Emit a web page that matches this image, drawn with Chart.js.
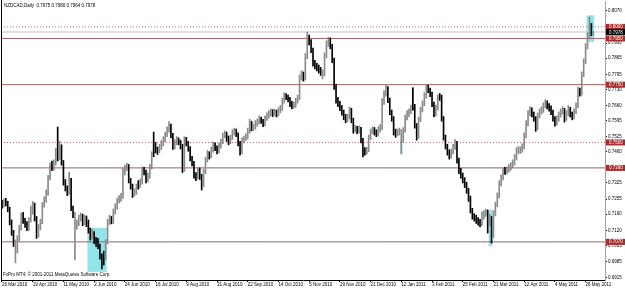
<!DOCTYPE html>
<html>
<head>
<meta charset="utf-8">
<script src="https://cdn.jsdelivr.net/npm/chart.js@4.4.1/dist/chart.umd.min.js"></script>
<style>
  html, body { margin: 0; padding: 0; background: #fff; }
  #wrap { width: 625px; height: 288px; }
</style>
</head>
<body>
<div id="wrap"><canvas id="chart" width="625" height="288"></canvas></div>
<script>
// NZDCAD daily bars, 26 Mar 2010 .. early Jun 2011
const closes = [
  0.7229,0.7242,0.7238,0.7212,0.7156,0.7112,0.7069,0.7035,0.7086,0.7130,
  0.7182,0.7164,0.7147,0.7130,0.7164,0.7199,0.7229,0.7173,0.7099,0.7130,
  0.7156,0.7229,0.7251,0.7281,0.7346,0.7398,0.7390,0.7411,0.7459,0.7433,
  0.7480,0.7415,0.7329,0.7303,0.7285,0.7338,0.7216,0.7190,0.7138,0.7147,
  0.7173,0.7182,0.7151,0.7173,0.7156,0.7121,0.7091,0.7108,0.7078,0.7069,
  0.7052,0.7009,0.6983,0.7000,0.7069,0.7156,0.7173,0.7160,0.7199,0.7221,
  0.7247,0.7255,0.7264,0.7372,0.7390,0.7398,0.7338,0.7312,0.7277,0.7285,
  0.7307,0.7316,0.7329,0.7381,0.7372,0.7338,0.7355,0.7394,0.7446,0.7489,
  0.7467,0.7463,0.7480,0.7493,0.7511,0.7532,0.7554,0.7571,0.7532,0.7480,
  0.7498,0.7511,0.7502,0.7485,0.7381,0.7511,0.7498,0.7476,0.7433,0.7411,
  0.7359,0.7351,0.7381,0.7355,0.7316,0.7372,0.7424,0.7450,0.7442,0.7467,
  0.7489,0.7476,0.7463,0.7485,0.7502,0.7528,0.7536,0.7519,0.7502,0.7519,
  0.7541,0.7549,0.7536,0.7498,0.7459,0.7506,0.7515,0.7524,0.7549,0.7584,
  0.7562,0.7567,0.7580,0.7588,0.7601,0.7593,0.7580,0.7601,0.7614,0.7623,
  0.7632,0.7623,0.7632,0.7623,0.7636,0.7645,0.7679,0.7701,0.7697,0.7688,
  0.7667,0.7658,0.7662,0.7679,0.7693,0.7779,0.7796,0.7779,0.7870,0.7956,
  0.7935,0.7900,0.7844,0.7831,0.7822,0.7813,0.7805,0.7796,0.7874,0.7926,
  0.7943,0.7917,0.7857,0.7744,0.7684,0.7667,0.7649,0.7632,0.7610,0.7597,
  0.7610,0.7640,0.7597,0.7554,0.7562,0.7549,0.7558,0.7511,0.7463,0.7459,
  0.7467,0.7519,0.7545,0.7554,0.7545,0.7536,0.7554,0.7562,0.7675,0.7710,
  0.7736,0.7684,0.7632,0.7606,0.7545,0.7536,0.7545,0.7549,0.7511,0.7554,
  0.7606,0.7623,0.7632,0.7649,0.7658,0.7575,0.7524,0.7597,0.7640,0.7667,
  0.7701,0.7736,0.7727,0.7710,0.7667,0.7623,0.7649,0.7693,0.7697,0.7606,
  0.7524,0.7485,0.7459,0.7442,0.7459,0.7480,0.7498,0.7424,0.7377,0.7359,
  0.7338,0.7320,0.7294,0.7260,0.7208,0.7182,0.7173,0.7164,0.7156,0.7147,
  0.7177,0.7190,0.7199,0.7147,0.7173,0.7095,0.7190,0.7229,0.7268,0.7320,
  0.7346,0.7372,0.7377,0.7381,0.7390,0.7398,0.7411,0.7433,0.7463,0.7467,
  0.7467,0.7480,0.7528,0.7580,0.7623,0.7640,0.7623,0.7606,0.7562,0.7614,
  0.7632,0.7640,0.7658,0.7671,0.7658,0.7649,0.7632,0.7606,0.7584,0.7601,
  0.7619,0.7632,0.7640,0.7601,0.7623,0.7645,0.7623,0.7610,0.7632,0.7658,
  0.7727,0.7714,0.7792,0.7848,0.7913,0.7961,0.8004,0.7975,0.7978
];
const highs = [
  0.7250,0.7255,0.7258,0.7246,0.7220,0.7165,0.7120,0.7078,0.7097,0.7142,
  0.7195,0.7198,0.7172,0.7158,0.7175,0.7225,0.7245,0.7238,0.7180,0.7145,
  0.7168,0.7240,0.7265,0.7295,0.7358,0.7412,0.7420,0.7425,0.7475,0.7567,
  0.7505,0.7490,0.7422,0.7340,0.7312,0.7372,0.7345,0.7225,0.7198,0.7165,
  0.7186,0.7195,0.7190,0.7186,0.7182,0.7165,0.7130,0.7125,0.7115,0.7090,
  0.7085,0.7060,0.7018,0.7030,0.7080,0.7168,0.7185,0.7180,0.7212,0.7235,
  0.7260,0.7270,0.7280,0.7390,0.7402,0.7410,0.7405,0.7345,0.7320,0.7300,
  0.7320,0.7335,0.7342,0.7395,0.7392,0.7380,0.7368,0.7405,0.7460,0.7545,
  0.7500,0.7480,0.7492,0.7508,0.7525,0.7545,0.7568,0.7590,0.7580,0.7540,
  0.7512,0.7525,0.7520,0.7510,0.7492,0.7525,0.7522,0.7505,0.7482,0.7440,
  0.7418,0.7370,0.7392,0.7390,0.7362,0.7385,0.7436,0.7465,0.7460,0.7480,
  0.7502,0.7498,0.7485,0.7498,0.7515,0.7540,0.7550,0.7545,0.7528,0.7532,
  0.7555,0.7562,0.7558,0.7542,0.7505,0.7520,0.7528,0.7538,0.7562,0.7600,
  0.7592,0.7580,0.7595,0.7602,0.7615,0.7610,0.7600,0.7615,0.7628,0.7638,
  0.7645,0.7642,0.7645,0.7640,0.7650,0.7660,0.7692,0.7715,0.7712,0.7705,
  0.7695,0.7678,0.7675,0.7692,0.7705,0.7792,0.7810,0.7805,0.7885,0.7978,
  0.7965,0.7945,0.7908,0.7855,0.7842,0.7835,0.7825,0.7815,0.7888,0.7940,
  0.7955,0.7952,0.7925,0.7865,0.7752,0.7695,0.7678,0.7660,0.7640,0.7622,
  0.7622,0.7652,0.7648,0.7605,0.7575,0.7570,0.7572,0.7565,0.7518,0.7478,
  0.7480,0.7532,0.7558,0.7568,0.7565,0.7555,0.7568,0.7578,0.7690,0.7725,
  0.7752,0.7742,0.7692,0.7640,0.7612,0.7558,0.7558,0.7562,0.7556,0.7565,
  0.7618,0.7638,0.7645,0.7662,0.7736,0.7665,0.7582,0.7610,0.7652,0.7680,
  0.7715,0.7752,0.7748,0.7735,0.7718,0.7675,0.7662,0.7705,0.7712,0.7705,
  0.7612,0.7532,0.7492,0.7468,0.7472,0.7492,0.7512,0.7505,0.7432,0.7388,
  0.7368,0.7348,0.7328,0.7302,0.7268,0.7215,0.7192,0.7185,0.7175,0.7168,
  0.7200,0.7205,0.7212,0.7208,0.7190,0.7180,0.7205,0.7242,0.7282,0.7335,
  0.7360,0.7388,0.7392,0.7395,0.7405,0.7412,0.7425,0.7448,0.7478,0.7482,
  0.7482,0.7495,0.7542,0.7595,0.7638,0.7655,0.7650,0.7632,0.7612,0.7628,
  0.7645,0.7655,0.7672,0.7685,0.7680,0.7668,0.7658,0.7640,0.7612,0.7615,
  0.7632,0.7645,0.7655,0.7648,0.7638,0.7660,0.7652,0.7632,0.7645,0.7672,
  0.7740,0.7735,0.7805,0.7862,0.7928,0.7975,0.8043,0.8015,0.7980
];
const lows = [
  0.7215,0.7220,0.7226,0.7200,0.7143,0.7098,0.7050,0.6979,0.7022,0.7075,
  0.7121,0.7150,0.7132,0.7118,0.7120,0.7155,0.7190,0.7160,0.7085,0.7090,
  0.7122,0.7148,0.7220,0.7242,0.7272,0.7338,0.7378,0.7380,0.7402,0.7420,
  0.7425,0.7402,0.7315,0.7290,0.7270,0.7275,0.7205,0.7175,0.6992,0.7125,
  0.7140,0.7160,0.7140,0.7143,0.7135,0.7108,0.7078,0.7082,0.7062,0.7050,
  0.7040,0.6995,0.6953,0.6970,0.6992,0.7060,0.7145,0.7148,0.7150,0.7190,
  0.7212,0.7238,0.7245,0.7258,0.7360,0.7378,0.7325,0.7298,0.7262,0.7268,
  0.7275,0.7298,0.7305,0.7320,0.7360,0.7325,0.7330,0.7345,0.7385,0.7438,
  0.7455,0.7448,0.7455,0.7470,0.7485,0.7502,0.7525,0.7545,0.7520,0.7470,
  0.7472,0.7490,0.7490,0.7472,0.7370,0.7375,0.7485,0.7462,0.7420,0.7398,
  0.7345,0.7335,0.7342,0.7340,0.7294,0.7308,0.7365,0.7415,0.7428,0.7435,
  0.7458,0.7465,0.7450,0.7455,0.7475,0.7495,0.7520,0.7505,0.7490,0.7495,
  0.7512,0.7532,0.7525,0.7485,0.7445,0.7452,0.7498,0.7508,0.7515,0.7540,
  0.7550,0.7552,0.7558,0.7570,0.7580,0.7582,0.7568,0.7572,0.7595,0.7605,
  0.7615,0.7612,0.7615,0.7610,0.7615,0.7628,0.7638,0.7670,0.7685,0.7675,
  0.7655,0.7645,0.7648,0.7652,0.7670,0.7685,0.7770,0.7765,0.7770,0.7862,
  0.7922,0.7888,0.7830,0.7818,0.7810,0.7800,0.7790,0.7775,0.7788,0.7865,
  0.7915,0.7905,0.7845,0.7730,0.7670,0.7655,0.7638,0.7618,0.7598,0.7585,
  0.7590,0.7602,0.7585,0.7540,0.7545,0.7538,0.7540,0.7498,0.7437,0.7445,
  0.7450,0.7460,0.7512,0.7538,0.7532,0.7525,0.7528,0.7545,0.7555,0.7665,
  0.7700,0.7672,0.7620,0.7592,0.7532,0.7522,0.7528,0.7532,0.7450,0.7500,
  0.7545,0.7598,0.7612,0.7625,0.7640,0.7562,0.7510,0.7518,0.7590,0.7632,
  0.7658,0.7692,0.7715,0.7698,0.7655,0.7610,0.7615,0.7640,0.7682,0.7592,
  0.7510,0.7472,0.7445,0.7428,0.7432,0.7450,0.7470,0.7410,0.7365,0.7345,
  0.7325,0.7305,0.7280,0.7245,0.7195,0.7168,0.7160,0.7150,0.7142,0.7135,
  0.7140,0.7168,0.7180,0.7108,0.7140,0.7065,0.7088,0.7182,0.7222,0.7260,
  0.7312,0.7338,0.7362,0.7365,0.7372,0.7380,0.7390,0.7402,0.7425,0.7452,
  0.7452,0.7458,0.7472,0.7520,0.7572,0.7615,0.7610,0.7592,0.7548,0.7555,
  0.7605,0.7622,0.7630,0.7650,0.7645,0.7635,0.7620,0.7592,0.7570,0.7575,
  0.7592,0.7610,0.7622,0.7588,0.7595,0.7615,0.7610,0.7598,0.7602,0.7625,
  0.7650,0.7700,0.7705,0.7785,0.7840,0.7905,0.7952,0.7962,0.7964
];

// time axis: a label every 16 bars
const xTickIndex = [0,16,32,48,64,80,96,112,128,144,160,176,192,208,224,240,256,272,288,304];
const xTickLabels = ['26 Mar 2010','19 Apr 2010','11 May 2010','2 Jun 2010','24 Jun 2010','16 Jul 2010',
  '9 Aug 2010','31 Aug 2010','22 Sep 2010','14 Oct 2010','5 Nov 2010','29 Nov 2010','21 Dec 2010',
  '12 Jan 2011','3 Feb 2011','25 Feb 2011','21 Mar 2011','12 Apr 2011','4 May 2011','26 May 2011'];
const yTickValues = [0.8070,0.8000,0.7930,0.7865,0.7795,0.7730,0.7660,0.7595,0.7525,0.7460,
  0.7390,0.7325,0.7255,0.7190,0.7120,0.7055,0.6985,0.6915];

// horizontal levels drawn on the chart
const solidLevels = [0.7950, 0.7750, 0.7390, 0.7070];
const dottedLevels = [0.8000, 0.7500];
const bidPrice = 0.7978;

// highlighted bar groups (bar index range, price range)
const boxStart = [45, 208, 214, 254, 305];
const boxEnd = [54, 208, 214, 255, 308];
const boxTop = [0.7130, 0.7515, 0.7740, 0.7208, 0.8050];
const boxBottom = [0.6940, 0.7450, 0.7640, 0.7052, 0.7935];

const titleText = 'NZDCAD,Daily  0.7975 0.7980 0.7964 0.7978';
const footText = 'FxPro MT4, \u00a9 2001-2011 MetaQuotes Software Corp.';

const FONT = '"Liberation Sans", Arial, sans-serif';
const X_MIN = -0.52, X_MAX = 314.1;

function levelLine(v, color, dash) {
    return {
        type: 'line',
        data: [{ x: X_MIN, y: v }, { x: X_MAX, y: v }],
        borderColor: color,
        borderWidth: 1,
        borderDash: dash,
        pointRadius: 0,
        order: 2
    };
}

// keep Chart.js from reserving room for overhanging tick labels
function noPadding(s) {
    s.paddingLeft = 0;
    s.paddingRight = 0;
    s.paddingTop = 0;
    s.paddingBottom = 0;
}

const overlay = {
    id: 'overlay',
    beforeDatasetsDraw(chart) {
        const { ctx, scales: { x, y } } = chart;
        ctx.save();
        ctx.fillStyle = '#93e4e8';
        boxStart.forEach((s, k) => {
            const x0 = x.getPixelForValue(s - 0.5);
            const x1 = x.getPixelForValue(boxEnd[k] + 0.5);
            const y0 = y.getPixelForValue(boxTop[k]);
            const y1 = y.getPixelForValue(boxBottom[k]);
            ctx.fillRect(x0, y0, x1 - x0, y1 - y0);
        });
        ctx.restore();
    },
    afterDraw(chart) {
        const { ctx, chartArea: a, scales: { y } } = chart;
        ctx.save();
        // left frame
        ctx.strokeStyle = '#000';
        ctx.lineWidth = 1;
        ctx.beginPath();
        ctx.moveTo(a.left + 0.5, 0);
        ctx.lineTo(a.left + 0.5, a.bottom);
        ctx.stroke();

        ctx.font = '4.5px ' + FONT;
        ctx.fillStyle = '#000';
        ctx.textBaseline = 'middle';
        ctx.fillText(titleText, 4, 5.5);
        ctx.fillText(footText, 3, a.bottom - 5);

        // price tags on the right axis
        const tag = (v, bg) => {
            const py = y.getPixelForValue(v);
            ctx.fillStyle = bg;
            ctx.fillRect(a.right + 1, py - 3, 19, 6);
            ctx.fillStyle = '#fff';
            ctx.fillText(v.toFixed(4), a.right + 4, py + 0.3);
        };
        dottedLevels.forEach(v => tag(v, '#a82c2c'));
        solidLevels.forEach(v => tag(v, '#a82c2c'));
        tag(bidPrice, '#000');
        ctx.restore();
    }
};

const barData = closes.map((c, i) => ({ x: i, y: [lows[i], highs[i]] }));

new Chart(document.getElementById('chart'), {
    type: 'bar',
    data: {
        datasets: [
            {
                data: barData,
                // grey when the bar closes in the upper half of its range
                backgroundColor: ctx => {
                    const i = ctx.dataIndex;
                    return closes[i] > (highs[i] + lows[i]) / 2 ? '#8a8a8a' : '#000';
                },
                borderWidth: 0,
                barThickness: 1,
                grouped: false,
                order: 1
            },
            ...solidLevels.map(v => levelLine(v, '#9a6262', [])),
            ...dottedLevels.map(v => levelLine(v, '#a86a6a', [1, 2])),
            levelLine(bidPrice, '#c4c4c4', [])
        ]
    },
    options: {
        responsive: false,
        animation: false,
        devicePixelRatio: 1,
        layout: { padding: { left: 1, top: 1, right: 0, bottom: 0 } },
        plugins: { legend: { display: false }, tooltip: { enabled: false } },
        scales: {
            x: {
                type: 'linear',
                offset: false,
                min: X_MIN,
                max: X_MAX,
                afterBuildTicks: s => { s.ticks = xTickIndex.map(v => ({ value: v })); },
                afterFit: s => { s.height = 8; noPadding(s); },
                ticks: {
                    callback: v => xTickLabels[xTickIndex.indexOf(v)],
                    align: 'start',
                    autoSkip: false,
                    maxRotation: 0,
                    padding: 0,
                    color: '#000',
                    font: { size: 4.5, family: FONT }
                },
                grid: { offset: false, drawOnChartArea: false, tickLength: 2, color: '#000' },
                border: { color: '#000' }
            },
            y: {
                position: 'right',
                min: 0.6905,
                max: 0.8112,
                afterBuildTicks: s => { s.ticks = yTickValues.map(v => ({ value: v })); },
                afterFit: s => { s.width = 20; noPadding(s); },
                ticks: {
                    callback: v => v.toFixed(4),
                    padding: 1,
                    color: '#000',
                    font: { size: 4.5, family: FONT }
                },
                grid: { drawOnChartArea: false, tickLength: 2, color: '#000' },
                border: { color: '#a0a0a0' }
            }
        }
    },
    plugins: [overlay]
});
</script>
</body>
</html>
